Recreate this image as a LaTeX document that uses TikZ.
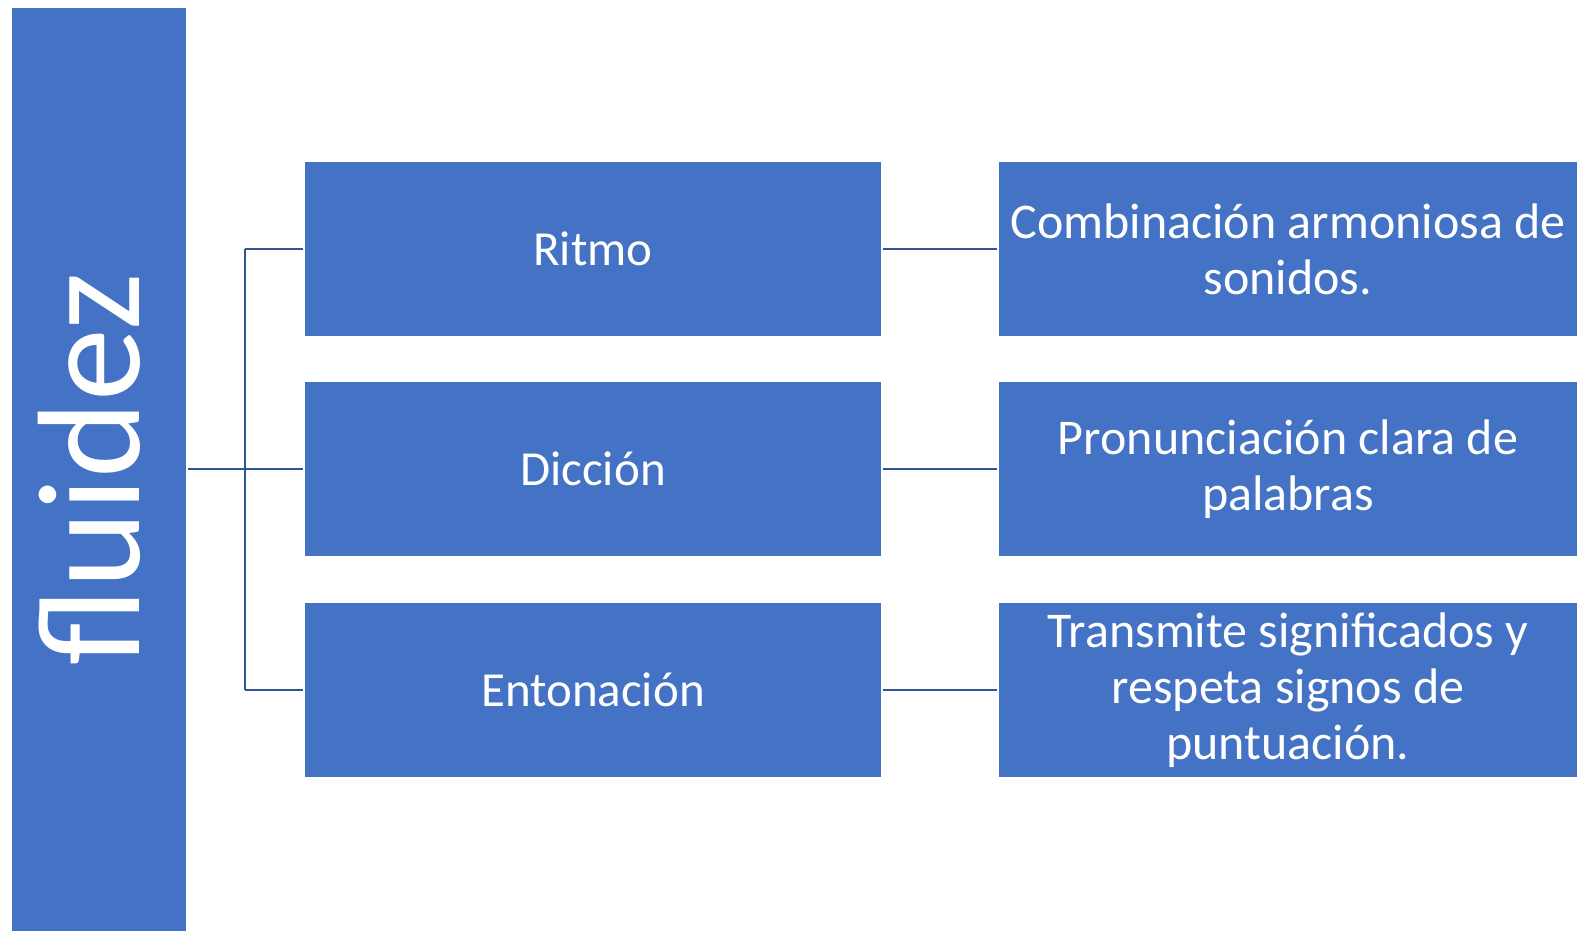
\documentclass[tikz,border=0pt]{standalone}
\usepackage{fontspec}
\setmainfont{Carlito}
\definecolor{boxblue}{HTML}{4472C4}
\definecolor{lineblue}{HTML}{2F5597}
\begin{document}
\begin{tikzpicture}[x=1pt,y=-1pt,
    box/.style={fill=boxblue, text=white, inner sep=0pt, minimum width=576pt, minimum height=174pt, align=center, font=\fontsize{49}{56}\selectfont},
    conn/.style={lineblue, line width=2.5pt, shorten <=2pt, shorten >=2pt}]

    \useasboundingbox (0,0) rectangle (1577,930);

    \node[box, minimum width=923pt, minimum height=174pt, font=\fontsize{146}{150}\selectfont, text depth=20pt, rotate=90] (fluidez) at (99,469) {fluidez};

    \node[box] (ritmo) at (593,249) {Ritmo};
    \node[box] (diccion) at (593,469) {Dicción};
    \node[box] (entonacion) at (593,690) {Entonación};

    \node[box, minimum width=578pt, font=\fontsize{50}{56}\selectfont] (ritmodef) at (1288,249) {Combinación armoniosa de\\sonidos.};
    \node[box, minimum width=578pt, font=\fontsize{50}{56}\selectfont] (acciondef) at (1288,469) {Pronunciación clara de\\palabras};
    \node[box, minimum width=578pt, font=\fontsize{50}{56}\selectfont] (entodef) at (1288,690) {Transmite significados y\\respeta signos de\\puntuación.};

    \coordinate (trunk) at (245,469);
    \draw[conn, shorten >=0pt] (fluidez.south) -- (trunk);
    \draw[lineblue, line width=2.5pt] (trunk |- ritmo) -- (trunk |- entonacion);
    \foreach \n in {ritmo,diccion,entonacion}
        \draw[conn, shorten <=0pt] (trunk |- \n) -- (\n.west);

    \draw[conn] (ritmo.east) -- (ritmodef.west);
    \draw[conn] (diccion.east) -- (acciondef.west);
    \draw[conn] (entonacion.east) -- (entodef.west);

\end{tikzpicture}
\end{document}
